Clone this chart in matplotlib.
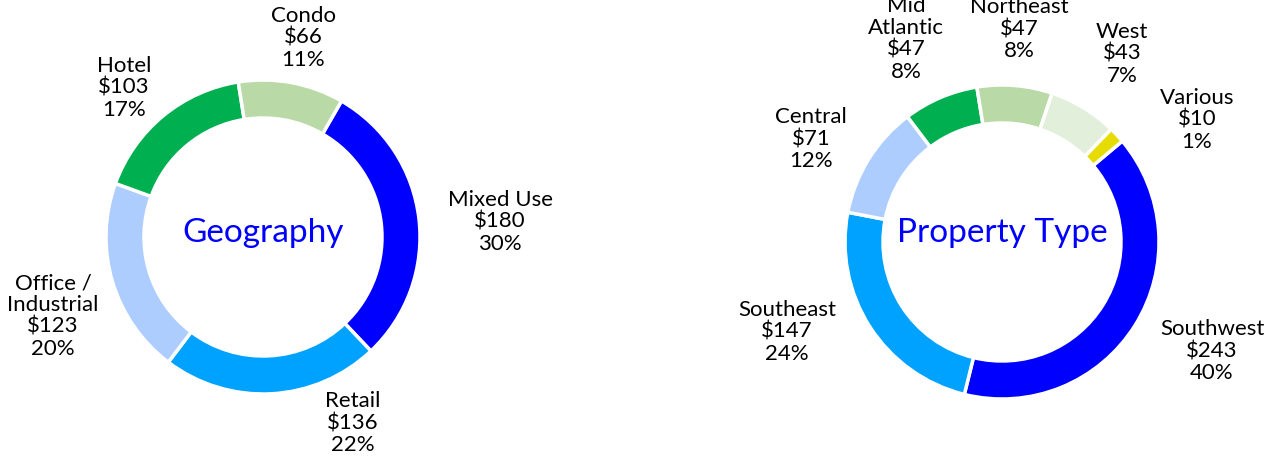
# Two donut charts: loan balances by property type and by region

import matplotlib.pyplot as plt

plt.rcParams['font.family'] = ['Lato', 'DejaVu Sans']

# --- data ---
left_title = 'Geography'
left_names = ['Mixed Use', 'Retail', 'Office /\nIndustrial', 'Hotel', 'Condo']
left_values = [180, 136, 123, 103, 66]
left_pcts = [30, 22, 20, 17, 11]

right_title = 'Property Type'
right_names = ['Southwest', 'Southeast', 'Central', 'Mid\nAtlantic', 'Northeast', 'West', 'Various']
right_values = [243, 147, 71, 47, 47, 43, 10]
right_pcts = [40, 24, 12, 8, 8, 7, 1]

# --- styling / layout (pixel coordinates, y measured from top) ---
W, H = 1268, 458
left_colors = ['#0000ff', '#00a2ff', '#adcdff', '#00b050', '#b9daa6']
right_colors = ['#0000ff', '#00a2ff', '#adcdff', '#00b050', '#b9daa6', '#e2efda', '#e6dc00']
left_label_pos = [(500, 222), (353, 423), (53, 316), (124, 88), (303, 38)]
right_label_pos = [(1212, 351), (787, 332), (811, 139), (906, 39), (1019, 29), (1122, 54), (1197, 120)]

fig = plt.figure(figsize=(W / 100, H / 100), dpi=100)
ax = fig.add_axes([0, 0, 1, 1])


def donut(center, values, colors, start, names, pcts, label_pos, title):
    cx, cy = center
    ax.pie(values, colors=colors, startangle=start, counterclock=False,
           radius=157, center=(cx, H - cy),
           wedgeprops=dict(width=38, edgecolor='white', linewidth=2.5))
    for name, v, p, (lx, ly) in zip(names, values, pcts, label_pos):
        ax.text(lx, H - ly, f'{name}\n${v}\n{p}%', ha='center', va='center',
                multialignment='center', fontsize=16, linespacing=1.12,
                color='black')
    ax.text(cx, H - 233, title, ha='center', va='center', fontsize=24,
            color='#0000ff')


donut((263, 237), left_values, left_colors, 60, left_names, left_pcts,
      left_label_pos, left_title)
donut((1002, 242), right_values, right_colors, 40, right_names, right_pcts,
      right_label_pos, right_title)

ax.set_xlim(0, W)
ax.set_ylim(0, H)
ax.set_aspect('equal')
ax.axis('off')

fig.savefig('out.png', dpi=100, facecolor='white')
